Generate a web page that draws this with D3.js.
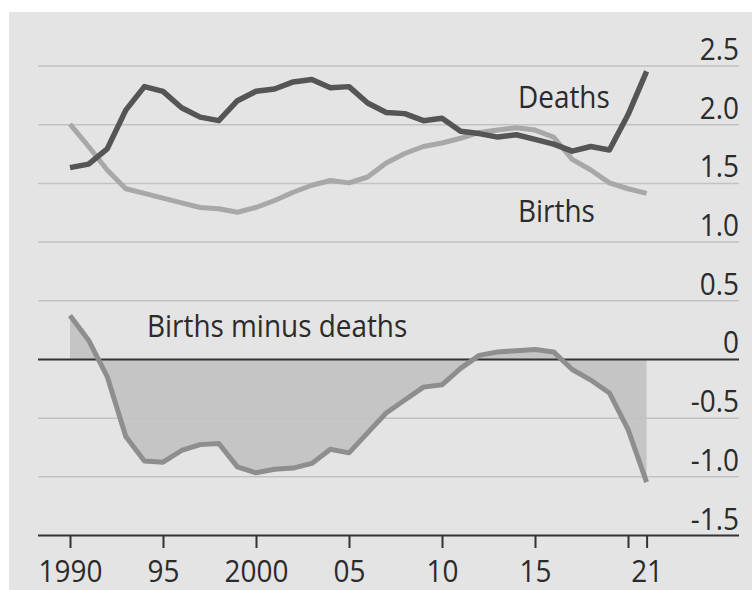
<!DOCTYPE html>
<html>
<head>
<meta charset="utf-8">
<script src="https://cdn.jsdelivr.net/npm/d3@7"></script>
<style>
  html, body { margin: 0; padding: 0; background: #fff; }
  svg { display: block; }
  text { font-family: "Open Sans", "Liberation Sans", sans-serif; fill: #2b2b2b; }
</style>
</head>
<body>
<div id="chart"></div>
<script>
const years = d3.range(1990, 2022);
const births = [2.00, 1.81, 1.61, 1.45, 1.41, 1.37, 1.33, 1.29, 1.28, 1.25,
                1.29, 1.35, 1.42, 1.48, 1.52, 1.50, 1.55, 1.67, 1.75, 1.81,
                1.84, 1.88, 1.93, 1.95, 1.97, 1.95, 1.89, 1.70, 1.61, 1.50,
                1.45, 1.41];
const deaths = [1.63, 1.66, 1.79, 2.12, 2.32, 2.28, 2.14, 2.06, 2.03, 2.20,
                2.28, 2.30, 2.36, 2.38, 2.31, 2.32, 2.18, 2.10, 2.09, 2.03,
                2.05, 1.94, 1.92, 1.89, 1.91, 1.87, 1.83, 1.77, 1.81, 1.78,
                2.08, 2.45];
const net = [0.37, 0.16, -0.15, -0.66, -0.87, -0.88, -0.78, -0.73, -0.72, -0.92,
             -0.97, -0.94, -0.93, -0.89, -0.77, -0.80, -0.63, -0.46, -0.35, -0.24,
             -0.22, -0.08, 0.03, 0.06, 0.07, 0.08, 0.06, -0.09, -0.18, -0.29,
             -0.60, -1.05];
const yTicks = [2.5, 2.0, 1.5, 1.0, 0.5, 0, -0.5, -1.0, -1.5];
const yTickLabels = ["2.5", "2.0", "1.5", "1.0", "0.5", "0", "-0.5", "-1.0", "-1.5"];
const xTicks = [1990, 1995, 2000, 2005, 2010, 2015, 2020, 2021];
const xTickLabels = ["1990", "95", "2000", "05", "10", "15", "", "21"];

const W = 752, H = 590;
const gridLeft = 38, gridRight = 739;
const fontSize = 31, squeeze = "scale(0.9,1)"; // narrow face like the original

const svg = d3.select("#chart").append("svg")
  .attr("width", W)
  .attr("height", H);

// grey panel
svg.append("rect")
  .attr("x", 9).attr("y", 12)
  .attr("width", W - 9).attr("height", H - 12)
  .attr("fill", "#e4e4e4");

const x = d3.scaleLinear().domain([1990, 2021]).range([70, 646.6]);
const y = d3.scaleLinear().domain([-1.5, 2.5]).range([535, 65.5]);

// net area (under everything else)
const netData = years.map((yr, i) => ({ yr, v: net[i] }));
svg.append("path")
  .datum(netData)
  .attr("fill", "#c5c5c5")
  .attr("d", d3.area().x(d => x(d.yr)).y0(y(0)).y1(d => y(d.v)));

// y axis: grid lines with labels sitting on top of them
const yAxis = svg.append("g")
  .attr("transform", `translate(${gridRight},0)`)
  .call(d3.axisLeft(y)
    .tickValues(yTicks)
    .tickSize(gridRight - gridLeft)
    .tickFormat((d, i) => yTickLabels[i]));
yAxis.select(".domain").remove();
yAxis.selectAll(".tick line")
  .attr("stroke", d => (d === 0 || d === -1.5) ? "#333" : "#c2c2c2")
  .attr("stroke-width", d => (d === 0 || d === -1.5) ? 2 : 1.5);
yAxis.selectAll(".tick text")
  .attr("x", 0)
  .attr("dy", -6)
  .attr("text-anchor", "end")
  .attr("transform", squeeze)
  .attr("font-size", fontSize)
  .attr("fill", "#2b2b2b")
  .attr("font-family", null);

// x axis
const xAxis = svg.append("g")
  .attr("transform", `translate(0,${y(-1.5)})`)
  .call(d3.axisBottom(x)
    .tickValues(xTicks)
    .tickSize(13)
    .tickFormat((d, i) => xTickLabels[i]));
xAxis.select(".domain").remove();
xAxis.selectAll(".tick line").attr("stroke", "#333").attr("stroke-width", 2);
xAxis.selectAll(".tick text")
  .attr("y", 47)
  .attr("dy", 0)
  .attr("transform", squeeze)
  .attr("font-size", fontSize)
  .attr("fill", "#2b2b2b")
  .attr("font-family", null);

const line = d3.line().x(d => x(d.yr)).y(d => y(d.v));

svg.append("path")
  .datum(years.map((yr, i) => ({ yr, v: births[i] })))
  .attr("fill", "none")
  .attr("stroke", "#a8a8a8")
  .attr("stroke-width", 5)
  .attr("stroke-linejoin", "round")
  .attr("d", line);

svg.append("path")
  .datum(years.map((yr, i) => ({ yr, v: deaths[i] })))
  .attr("fill", "none")
  .attr("stroke", "#555")
  .attr("stroke-width", 5.5)
  .attr("stroke-linejoin", "round")
  .attr("d", line);

svg.append("path")
  .datum(netData)
  .attr("fill", "none")
  .attr("stroke", "#8e8e8e")
  .attr("stroke-width", 5)
  .attr("stroke-linejoin", "round")
  .attr("d", line);

// series labels
function label(tx, ty, str) {
  svg.append("text")
    .attr("transform", `translate(${tx},${ty}) ${squeeze}`)
    .attr("font-size", fontSize)
    .text(str);
}
label(518, 108, "Deaths");
label(518, 222, "Births");
label(147, 337, "Births minus deaths");
</script>
</body>
</html>
